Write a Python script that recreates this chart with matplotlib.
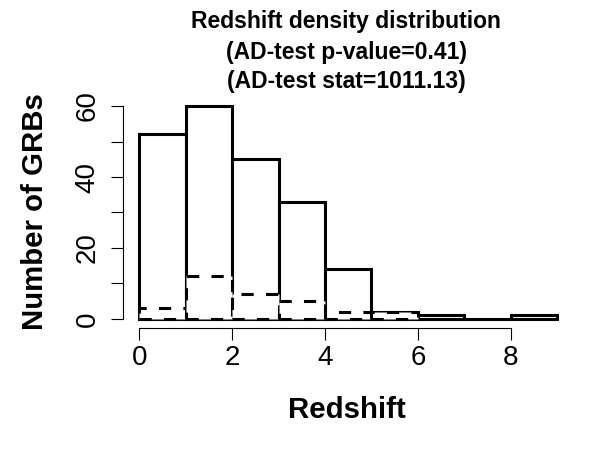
import numpy as np
import matplotlib
matplotlib.use('Agg')
import matplotlib.pyplot as plt

plt.rcParams['font.family'] = ['Liberation Sans', 'DejaVu Sans']

# histogram of all GRBs (bins of width 1, 0..9)
edges_all = [0, 1, 2, 3, 4, 5, 6, 7, 8, 9]
counts_all = [52, 60, 45, 33, 14, 2, 1, 0, 1]

# dashed subsample histogram (0..6)
edges_sub = [0, 1, 2, 3, 4, 5, 6]
counts_sub = [3, 12, 7, 5, 2, 2]

title_lines = ['Redshift density distribution',
               '(AD-test p-value=0.41)',
               '(AD-test stat=1011.13)']
xticks = [0, 2, 4, 6, 8]
yticks = [0, 10, 20, 30, 40, 50, 60]
ytick_labels = ['0', '', '20', '', '40', '', '60']

fig = plt.figure(figsize=(6, 4.5), dpi=100)
W, H = 600, 450
left, right, top, bottom = 122.5, 574, 97.5, 327.5
ax = fig.add_axes([left / W, 1 - bottom / H, (right - left) / W, (bottom - top) / H])

lw = 2.2
ax.bar(edges_all[:-1], counts_all, width=np.diff(edges_all), align='edge',
       facecolor='white', edgecolor='black', linewidth=lw, joinstyle='miter')
ax.bar(edges_sub[:-1], counts_sub, width=np.diff(edges_sub), align='edge',
       facecolor='white', edgecolor='black', linewidth=lw, linestyle=(0, (4, 4)),
       joinstyle='miter')

ax.set_xlim(-0.36, 9.36)
ax.set_ylim(-2.4, 62.4)

for s in ['top', 'right']:
    ax.spines[s].set_visible(False)
ax.spines['left'].set_bounds(0, 60)
ax.spines['bottom'].set_bounds(0, 8)
for s in ['left', 'bottom']:
    ax.spines[s].set_linewidth(0.8)

ax.set_xticks(xticks)
ax.set_xticklabels([str(t) for t in xticks], fontsize=20)
ax.set_yticks(yticks)
ax.set_yticklabels(ytick_labels, fontsize=20, rotation=90, va='center')
ax.tick_params(axis='both', length=8.6, width=0.8, direction='out')
ax.tick_params(axis='x', pad=3.9)
ax.tick_params(axis='y', pad=7.3)

fig.text(35 / W, 1 - 212 / H, 'Number of GRBs', rotation=90, fontsize=21.2,
         fontweight='bold', ha='center', va='center')
fig.text(347 / W, 1 - 418 / H, 'Redshift', fontsize=21.2, fontweight='bold',
         ha='center', va='baseline')
baselines = [28, 58.5, 88]
for line, yb in zip(title_lines, baselines):
    fig.text(346 / W, 1 - yb / H, line, fontsize=16.5,
             fontweight='bold', ha='center', va='baseline')

fig.savefig('out.png', dpi=100)
